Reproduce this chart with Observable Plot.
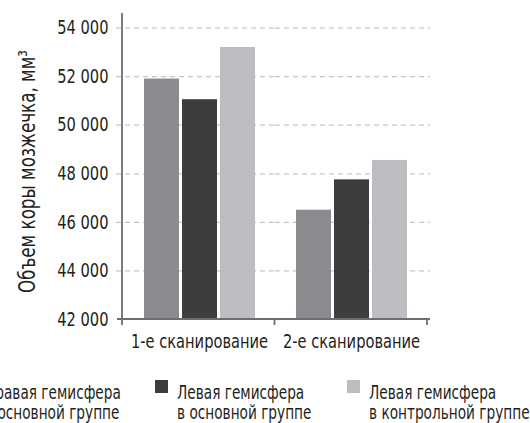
<!DOCTYPE html>
<html><head><meta charset="utf-8">
<script src="https://cdn.jsdelivr.net/npm/d3@7"></script>
<script src="https://cdn.jsdelivr.net/npm/@observablehq/plot@0.6"></script>
<style>
html,body{margin:0;padding:0;background:#fff;overflow:hidden;}
body{width:530px;height:423px;position:relative;font-family:"DejaVu Sans Condensed","DejaVu Sans",sans-serif;color:#231f20;}
#legend{position:absolute;left:-37px;top:382px;display:flex;white-space:nowrap;}
.item{width:192px;display:flex;align-items:flex-start;}
.sw{width:13px;height:13px;margin-top:-2px;margin-right:9px;flex:none;}
.lab{font-size:19px;line-height:20px;white-space:pre;transform:scaleX(0.8);transform-origin:0 0;}
</style></head>
<body>
<div id="chart"></div>
<div id="legend"></div>
<script>
const scans = ["1-е сканирование", "2-е сканирование"];
const series = ["Правая гемисфера\nв основной группе", "Левая гемисфера\nв основной группе", "Левая гемисфера\nв контрольной группе"];
const scan1Values = [51900, 51050, 53200];
const scan2Values = [46500, 47750, 48550];
const colors = ["#8a8b8f", "#3d3d3d", "#bcbdc0"];
const yTicks = [42000, 44000, 46000, 48000, 50000, 52000, 54000];
const yTitle = "Объем коры мозжечка, мм³";

const data = [];
series.forEach((s, i) => {
  data.push({scan: scans[0], series: s, value: scan1Values[i]});
  data.push({scan: scans[1], series: s, value: scan2Values[i]});
});
const grid1 = yTicks.filter(v => v > 42000).map(v => ({scan: scans[0], v}));
const grid2 = yTicks.filter(v => v > 42000).map(v => ({scan: scans[1], v}));
const fmt = v => d3.format(",")(v).replace(",", " ");
const FONT = '"DejaVu Sans Condensed","DejaVu Sans",sans-serif';

const chart = Plot.plot({
  width: 530, height: 360,
  marginLeft: 122, marginRight: 103, marginTop: 13, marginBottom: 41,
  style: {fontFamily: FONT, color: "#231f20", background: "#fff"},
  fx: {domain: scans, padding: 0, label: null},
  x: {domain: series, paddingInner: 0.09, paddingOuter: 0.52, axis: null},
  y: {domain: [42000, 54600], label: null},
  color: {domain: series, range: colors},
  marks: [
    Plot.ruleY(grid1, {fx: "scan", y: "v", stroke: "#c8c8c8", strokeWidth: 1.3, strokeDasharray: "5,4", insetLeft: -7}),
    Plot.ruleY(grid2, {fx: "scan", y: "v", stroke: "#c8c8c8", strokeWidth: 1.3, strokeDasharray: "5,4", insetRight: -3}),
    Plot.barY(data, {fx: "scan", x: "series", y1: 42000, y2: "value", fill: "series"}),
    Plot.axisY({ticks: yTicks, tickFormat: fmt, tickSize: 0, tickPadding: 15, fontSize: 19.5, label: null}),
    Plot.axisFx({anchor: "bottom", tickSize: 0, tickPadding: 15, fontSize: 19.5, label: null}),
    Plot.text([{scan: scans[0], t: yTitle}], {fx: "scan", text: "t", frameAnchor: "left", rotate: -90, dx: -89, dy: 5, fontSize: 23, textAnchor: "middle", lineAnchor: "bottom", fill: "#231f20"})
  ]
});
document.getElementById("chart").appendChild(chart);

// condense the glyphs horizontally around each text's own anchor
d3.select(chart).selectAll("text").each(function() {
  const s = this.textContent === yTitle ? 0.81 : 0.835;
  let t = this.getAttribute("transform");
  if (!t) {
    const x = this.getAttribute("x") || 0, y = this.getAttribute("y") || 0;
    this.removeAttribute("x"); this.removeAttribute("y");
    t = `translate(${x},${y})`;
  }
  this.setAttribute("transform", `${t} scale(${s},1)`);
});

// axis lines and band-boundary ticks from the plot's own scales
const fxS = chart.scale("fx"), yS = chart.scale("y");
const band = d3.scaleBand().domain(fxS.domain).range(fxS.range).paddingInner(fxS.paddingInner ?? 0).paddingOuter(fxS.paddingOuter ?? 0);
const bounds = scans.map(s => band(s)).concat([band(scans[scans.length - 1]) + band.bandwidth()]);
const yScale = d3.scaleLinear().domain(yS.domain).range(yS.range);
const y0 = yScale(42000), yTop = yScale(yS.domain[1]);
const svg = d3.select(chart);
const g = svg.append("g").attr("stroke", "#6d6e71").attr("stroke-width", 1.8).attr("fill", "none");
g.append("line").attr("x1", bounds[0] - 5).attr("x2", bounds[2] + 3).attr("y1", y0).attr("y2", y0);
g.append("line").attr("x1", bounds[0]).attr("x2", bounds[0]).attr("y1", yTop).attr("y2", y0 + 6);
bounds.slice(1).forEach(b => g.append("line").attr("x1", b).attr("x2", b).attr("y1", y0).attr("y2", y0 + 6));

// legend
const legend = d3.select("#legend");
series.forEach((s, i) => {
  const it = legend.append("div").attr("class", "item");
  it.append("div").attr("class", "sw").style("background", colors[i]);
  it.append("div").attr("class", "lab").text(s);
});
</script>
</body></html>
